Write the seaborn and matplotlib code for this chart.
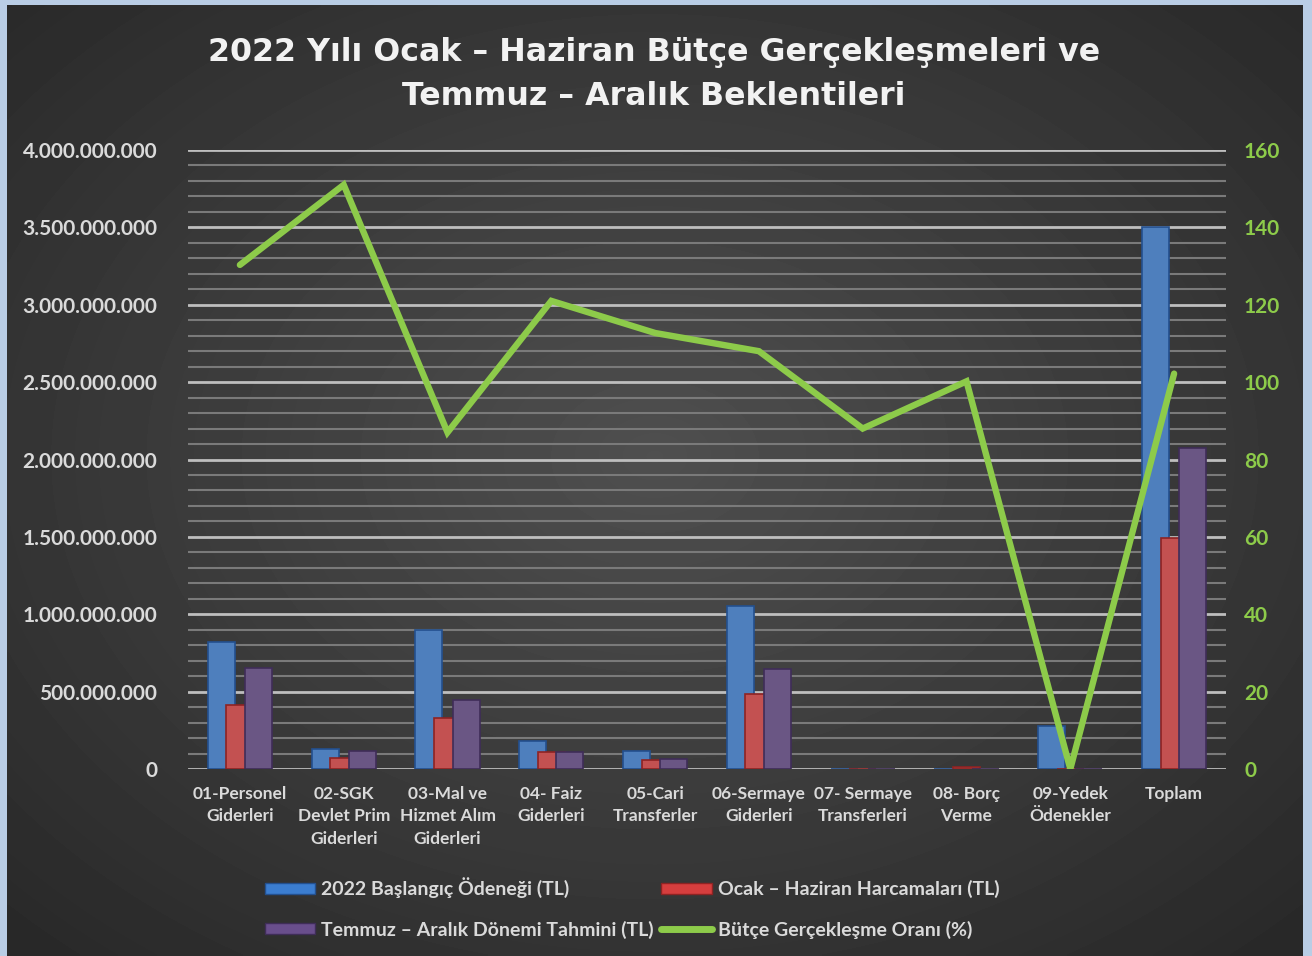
import numpy as np
import pandas as pd
import matplotlib
matplotlib.use("Agg")
import matplotlib.pyplot as plt
from matplotlib.patches import Patch
from matplotlib.lines import Line2D
from matplotlib.ticker import MultipleLocator, FuncFormatter
import seaborn as sns

# data
categories = ["01-Personel\nGiderleri", "02-SGK\nDevlet Prim\nGiderleri",
              "03-Mal ve\nHizmet Alım\nGiderleri", "04- Faiz\nGiderleri",
              "05-Cari\nTransferler", "06-Sermaye\nGiderleri",
              "07- Sermaye\nTransferleri", "08- Borç\nVerme",
              "09-Yedek\nÖdenekler", "Toplam"]
baslangic = [818e6, 127e6, 898e6, 181e6, 114e6, 1055e6, 2e6, 0, 275e6, 3500e6]
ocak_haziran = [412e6, 71e6, 330e6, 113e6, 56e6, 483e6, 2e6, 10e6, 0, 1494e6]
temmuz_aralik = [651e6, 118e6, 446e6, 112e6, 67e6, 648e6, 0, 0, 0, 2075e6]
oran = [130.3, 151.0, 87.0, 121.0, 112.7, 108.0, 88.0, 100.2, 0.0, 102.2]

series_names = ["2022 Başlangıç Ödeneği (TL)", "Ocak – Haziran Harcamaları (TL)",
                "Temmuz – Aralık Dönemi Tahmini (TL)"]
line_name = "Bütçe Gerçekleşme Oranı (%)"
colors = ["#3B7DD0", "#D63E3E", "#694E8C"]
edge_colors = ["#23508F", "#8E2323", "#3F2D58"]
green = "#8DCB4A"
txt = "#DADADA"

df = pd.DataFrame({
    "cat": categories * 3,
    "value": baslangic + ocak_haziran + temmuz_aralik,
    "series": [s for s in series_names for _ in categories],
})

sns.set_theme(style="dark")
plt.rcParams["font.family"] = ["Lato", "DejaVu Sans"]
plt.rcParams["font.weight"] = "bold"

fig = plt.figure(figsize=(13.12, 9.56), dpi=100)
fig.patch.set_facecolor("#B9CDE5")

# dark radial background
bg = fig.add_axes([7 / 1312, 0, 1296 / 1312, 1 - 5 / 956])
gy, gx = np.mgrid[-1:1:300j, -1:1:400j]
r = np.sqrt(gx ** 2 + (gy + 0.05) ** 2) / np.sqrt(2)
bg.imshow(0.31 - 0.15 * r, cmap="gray", vmin=0, vmax=1, aspect="auto",
          interpolation="bilinear")
bg.axis("off")

ax = fig.add_axes([188 / 1312, 1 - 769 / 956, 1038 / 1312, 619 / 956])
ax.set_facecolor("none")

sns.barplot(data=df, x="cat", y="value", hue="series", hue_order=series_names,
            palette=colors, width=0.535, gap=0, legend=False, ax=ax, zorder=3)
for i, p in enumerate(ax.patches):
    c = p.get_x() + p.get_width() / 2
    p.set_width(0.26)
    p.set_x(c - 0.13)
    p.set_edgecolor(edge_colors[i // len(categories)])
    p.set_linewidth(1.2)

ax.set_ylim(0, 4e9)
ax.set_xlim(-0.5, len(categories) - 0.5)
ax.yaxis.set_major_locator(MultipleLocator(5e8))
ax.yaxis.set_minor_locator(MultipleLocator(1e8))
ax.yaxis.set_major_formatter(FuncFormatter(lambda v, _: f"{v:,.0f}".replace(",", ".")))
ax.grid(axis="y", which="major", color="#BEBEBE", lw=2.0, zorder=1)
ax.grid(axis="y", which="minor", color="#7A7A7A", lw=1.5, zorder=1)
ax.grid(axis="x", visible=False)
ax.set_axisbelow(True)
for s in ax.spines.values():
    s.set_visible(False)
ax.tick_params(axis="y", which="both", length=0, pad=22, labelsize=15, labelcolor=txt)
ax.tick_params(axis="x", length=0, pad=12, labelsize=12.5, labelcolor=txt)
for lab in ax.get_xticklabels():
    lab.set_linespacing(1.5)
    lab.set_fontweight("bold")
ax.set_xlabel("")
ax.set_ylabel("")

ax2 = ax.twinx()
sns.lineplot(x=np.arange(len(categories)), y=oran, color=green, lw=4.6, ax=ax2,
             sort=False, solid_capstyle="round", solid_joinstyle="miter")
ax2.set_ylim(0, 160)
ax2.yaxis.set_major_locator(MultipleLocator(20))
ax2.tick_params(axis="y", length=0, pad=13, labelsize=15, labelcolor=green)
ax2.grid(False)
for s in ax2.spines.values():
    s.set_visible(False)
ax2.set_ylabel("")

fig.text(0.4985, 0.922, "2022 Yılı Ocak – Haziran Bütçe Gerçekleşmeleri ve\nTemmuz – Aralık Beklentileri",
         ha="center", va="center", color="#F2F2F2", fontsize=22.8, fontweight="bold",
         linespacing=1.55, family=["DejaVu Sans"])

handles = [Patch(facecolor=colors[0], edgecolor=edge_colors[0], label=series_names[0]),
           Patch(facecolor=colors[2], edgecolor=edge_colors[2], label=series_names[2]),
           Patch(facecolor=colors[1], edgecolor=edge_colors[1], label=series_names[1]),
           Line2D([], [], color=green, lw=5, solid_capstyle="round", label=line_name)]
leg = fig.legend(handles=handles, ncol=2, loc="center", bbox_to_anchor=(0.4817, 0.0502),
                 frameon=False, handlelength=2.6, handleheight=0.5,
                 handletextpad=0.3, columnspacing=0.4, labelspacing=1.15,
                 prop={"weight": "bold", "size": 14})
for t in leg.get_texts():
    t.set_color(txt)

fig.savefig("out.png", dpi=100, facecolor=fig.get_facecolor())
